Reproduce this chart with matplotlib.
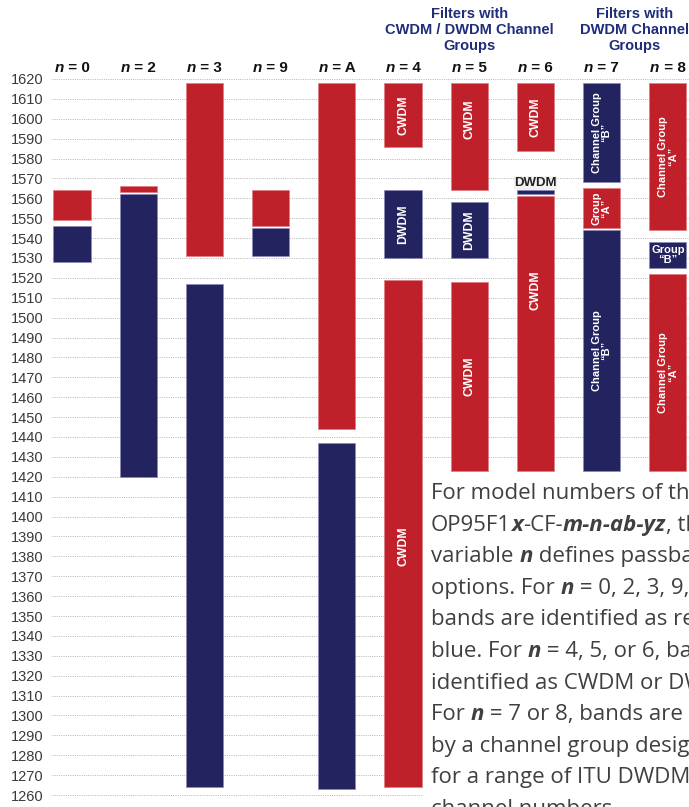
import matplotlib
matplotlib.use("Agg")
import matplotlib.pyplot as plt
from matplotlib.transforms import IdentityTransform
from matplotlib.patches import Rectangle

# ---------------- data ----------------
columns = ["0", "2", "3", "9", "A", "4", "5", "6", "7", "8"]

band_lo = [1549, 1528, 1563, 1420, 1531, 1264, 1546, 1531, 1444, 1263,
           1586, 1530, 1264, 1564, 1530, 1423, 1584, 1562, 1423,
           1568, 1545, 1423, 1544, 1525, 1423]
band_hi = [1564, 1546, 1566, 1562, 1618, 1517, 1564, 1545, 1618, 1437,
           1618, 1564, 1519, 1618, 1558, 1518, 1618, 1564, 1561,
           1618, 1565, 1544, 1618, 1538, 1522]
band_col = [0, 0, 1, 1, 2, 2, 3, 3, 4, 4,
            5, 5, 5, 6, 6, 6, 7, 7, 7,
            8, 8, 8, 9, 9, 9]
band_kind = ["red", "blue", "red", "blue", "red", "blue", "red", "blue", "red", "blue",
             "red", "blue", "red", "red", "blue", "red", "red", "blue", "red",
             "blue", "red", "blue", "red", "blue", "red"]
band_label = ["", "", "", "", "", "", "", "", "", "",
              "CWDM", "DWDM", "CWDM", "CWDM", "DWDM", "CWDM", "CWDM", "DWDM", "CWDM",
              "Channel Group\n\u201cB\u201d", "Group\n\u201cA\u201d", "Channel Group\n\u201cB\u201d",
              "Channel Group\n\u201cA\u201d", "Group\n\u201cB\u201d", "Channel Group\n\u201cA\u201d"]
# label placement mode: v = vertical inside, h = horizontal inside, above = dark text above bar
band_label_mode = ["", "", "", "", "", "", "", "", "", "",
                   "v", "v", "v", "v", "v", "v", "v", "above", "v",
                   "v", "v", "v", "v", "h", "v"]
# label wavelength overrides (band index -> wavelength)
label_at = {12: 1385, 13: 1600, 18: 1514, 17: 1567.7}

yticks = list(range(1260, 1621, 10))

group_titles = ["Filters with\nCWDM / DWDM Channel\nGroups",
                "Filters with\nDWDM Channel\nGroups"]
group_title_x = [6.0, 8.5]

paragraph = [
    [("For model numbers of the form", "r")],
    [("OP95F1", "r"), ("x", "bi"), ("-CF-", "r"), ("m-n-ab-yz", "bi"), (", the", "r")],
    [("variable ", "r"), ("n", "bi"), (" defines passband", "r")],
    [("options. For ", "r"), ("n", "bi"), (" = 0, 2, 3, 9, or A,", "r")],
    [("bands are identified as red or", "r")],
    [("blue. For ", "r"), ("n", "bi"), (" = 4, 5, or 6, bands are", "r")],
    [("identified as CWDM or DWDM.", "r")],
    [("For ", "r"), ("n", "bi"), (" = 7 or 8, bands are identified", "r")],
    [("by a channel group designation", "r")],
    [("for a range of ITU DWDM", "r")],
    [("channel numbers.", "r")],
]

# ---------------- style ----------------
RED = "#c0202a"
BLUE = "#23235f"
RED_EDGE = "#e07a80"
BLUE_EDGE = "#8a8ab8"
TITLE_C = "#1f2d7a"
W, H = 689, 807
SANS = ["Liberation Sans", "DejaVu Sans"]

fig = plt.figure(figsize=(W / 100, H / 100), dpi=100)
fig.patch.set_facecolor("white")

ax_left, ax_right = 52, 689
ax_top, ax_bot = 73.0, 801.0
ax = fig.add_axes([ax_left / W, (H - ax_bot) / H, (ax_right - ax_left) / W, (ax_bot - ax_top) / H])
ax.set_xlim(-0.302, 9.32)
ax.set_ylim(1257, 1623)
for s in ax.spines.values():
    s.set_visible(False)
ax.set_yticks(yticks)
ax.set_yticklabels([str(v) for v in yticks], fontsize=10.5, family=SANS, color="#3a3a3a")
ax.tick_params(axis="y", length=0, pad=6)
ax.set_xticks([])
ax.yaxis.grid(True, linestyle=(0, (1, 1.3)), color="#b5b5b5", linewidth=0.7)
ax.set_axisbelow(True)

for i in range(len(band_lo)):
    kind = band_kind[i]
    ax.bar(band_col[i], band_hi[i] - band_lo[i], bottom=band_lo[i], width=0.56,
           color=RED if kind == "red" else BLUE,
           edgecolor=RED_EDGE if kind == "red" else BLUE_EDGE, linewidth=0.5, zorder=2)
    lab = band_label[i]
    if not lab:
        continue
    mode = band_label_mode[i]
    yl = label_at.get(i, (band_lo[i] + band_hi[i]) / 2)
    fs = 8 if "Group" in lab else 8.8
    if mode == "v":
        ax.text(band_col[i], yl, lab, rotation=90, ha="center", va="center", color="white",
                fontsize=fs, fontweight="bold", family=SANS, linespacing=1.0, zorder=3,
                multialignment="center")
    elif mode == "h":
        ax.text(band_col[i], yl, lab, ha="center", va="center", color="white",
                fontsize=fs, fontweight="bold", family=SANS, linespacing=0.95, zorder=3,
                multialignment="center")
    else:
        ax.text(band_col[i], yl, lab, ha="center", va="center", color="#222222",
                fontsize=9.5, fontweight="bold", family=SANS, zorder=3,
                bbox=dict(boxstyle="square,pad=0.05", fc="#f2f2f2", ec="none"))

renderer = fig.canvas.get_renderer()


def seg_width(s, **kw):
    t1 = fig.text(0, 0, s + "|", **kw)
    t2 = fig.text(0, 0, "|", **kw)
    w = t1.get_window_extent(renderer).width - t2.get_window_extent(renderer).width
    t1.remove()
    t2.remove()
    return w


def draw_runs(x, y_img, runs, size, family, color, ha="left", zorder=5):
    styles = {"r": dict(fontweight="normal", fontstyle="normal"),
              "b": dict(fontweight="bold", fontstyle="normal"),
              "bi": dict(fontweight="bold", fontstyle="italic")}
    widths = []
    for s, st in runs:
        kw = dict(fontsize=size, family=family, transform=IdentityTransform(), **styles[st])
        widths.append(seg_width(s, **kw))
    total = sum(widths)
    cur = x - total / 2 if ha == "center" else x
    for (s, st), w in zip(runs, widths):
        fig.text(cur, H - y_img, s, fontsize=size, family=family, color=color,
                 transform=IdentityTransform(), va="baseline", ha="left", zorder=zorder,
                 **styles[st])
        cur += w


# column headers
for i, c in enumerate(columns):
    xp = ax.transData.transform((i, 1500))[0]
    draw_runs(xp, 72.5, [("n", "bi"), (" = " + c, "b")], 11, SANS, "#111111", ha="center")

# group titles
for t, gx in zip(group_titles, group_title_x):
    xp = ax.transData.transform((gx, 1500))[0]
    fig.text(xp / W, 1 - 30 / H, t, ha="center", va="center", fontsize=10.5, fontweight="bold",
             family=SANS, color=TITLE_C, linespacing=1.22)

# white note box + paragraph
fig.patches.append(Rectangle((423, 0), W - 423, H - 472, transform=IdentityTransform(),
                             facecolor="white", edgecolor="none", zorder=4))
for k, line in enumerate(paragraph):
    draw_runs(431, 499 + 31.6 * k, line, 16, ["Open Sans", "DejaVu Sans"], "#404040")

fig.savefig("out.png", dpi=100)
